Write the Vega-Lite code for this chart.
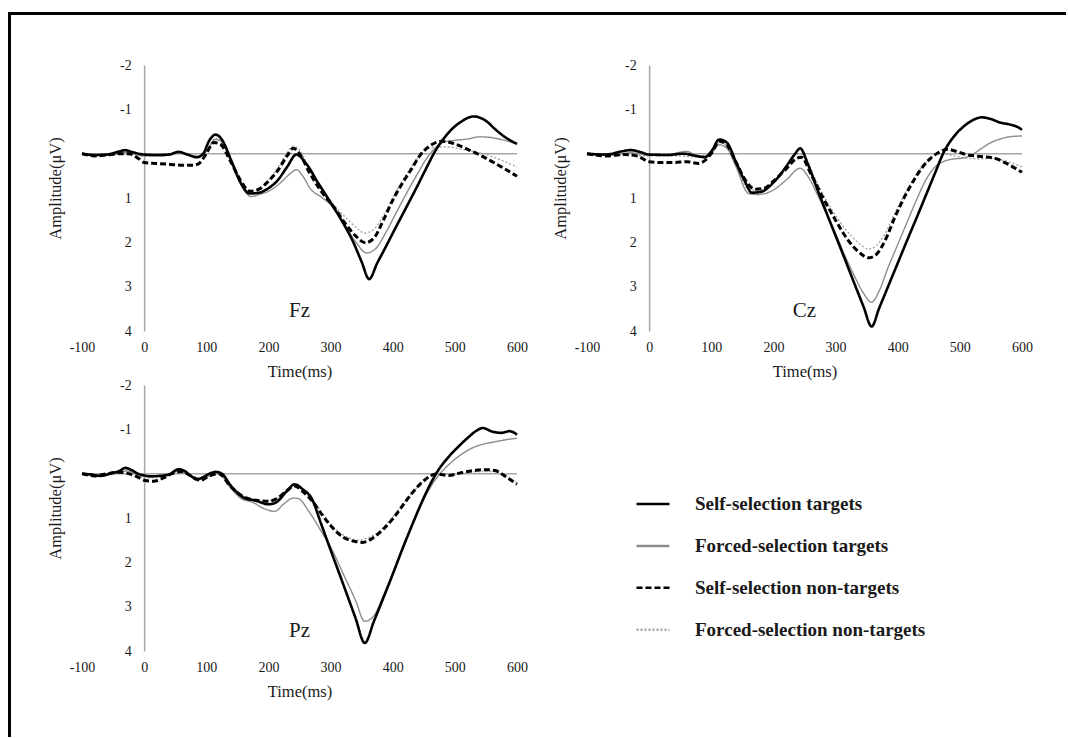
{
"$schema": "https://vega.github.io/schema/vega-lite/v6.json",
"padding": {"left": 8, "top": 12, "right": 0, "bottom": 0},
"background": "white",
"bounds": "flush",
"spacing": 0,
"datasets": {"erp": [
{"e":"Fz","s":"FN","t":-100,"v":0.02},{"e":"Fz","s":"FN","t":-60,"v":0.03},{"e":"Fz","s":"FN","t":-30,"v":-0.05},{"e":"Fz","s":"FN","t":0,"v":0.05},{"e":"Fz","s":"FN","t":30,"v":0.05},{"e":"Fz","s":"FN","t":60,"v":0.0},{"e":"Fz","s":"FN","t":85,"v":0.08},{"e":"Fz","s":"FN","t":100,"v":-0.05},{"e":"Fz","s":"FN","t":115,"v":-0.35},{"e":"Fz","s":"FN","t":128,"v":-0.25},{"e":"Fz","s":"FN","t":145,"v":0.3},{"e":"Fz","s":"FN","t":160,"v":0.75},{"e":"Fz","s":"FN","t":172,"v":0.9},{"e":"Fz","s":"FN","t":185,"v":0.82},{"e":"Fz","s":"FN","t":200,"v":0.6},{"e":"Fz","s":"FN","t":215,"v":0.32},{"e":"Fz","s":"FN","t":230,"v":-0.02},{"e":"Fz","s":"FN","t":240,"v":-0.17},{"e":"Fz","s":"FN","t":252,"v":-0.05},{"e":"Fz","s":"FN","t":265,"v":0.35},{"e":"Fz","s":"FN","t":285,"v":0.8},{"e":"Fz","s":"FN","t":305,"v":1.15},{"e":"Fz","s":"FN","t":325,"v":1.45},{"e":"Fz","s":"FN","t":340,"v":1.65},{"e":"Fz","s":"FN","t":355,"v":1.79},{"e":"Fz","s":"FN","t":370,"v":1.7},{"e":"Fz","s":"FN","t":385,"v":1.4},{"e":"Fz","s":"FN","t":400,"v":1.0},{"e":"Fz","s":"FN","t":415,"v":0.62},{"e":"Fz","s":"FN","t":430,"v":0.3},{"e":"Fz","s":"FN","t":450,"v":-0.05},{"e":"Fz","s":"FN","t":470,"v":-0.15},{"e":"Fz","s":"FN","t":490,"v":-0.15},{"e":"Fz","s":"FN","t":510,"v":-0.1},{"e":"Fz","s":"FN","t":530,"v":-0.05},{"e":"Fz","s":"FN","t":550,"v":0.02},{"e":"Fz","s":"FN","t":570,"v":0.12},{"e":"Fz","s":"FN","t":600,"v":0.3},
{"e":"Fz","s":"FT","t":-100,"v":0.02},{"e":"Fz","s":"FT","t":-70,"v":0.04},{"e":"Fz","s":"FT","t":-40,"v":0.0},{"e":"Fz","s":"FT","t":-30,"v":-0.03},{"e":"Fz","s":"FT","t":0,"v":0.05},{"e":"Fz","s":"FT","t":30,"v":0.05},{"e":"Fz","s":"FT","t":55,"v":-0.03},{"e":"Fz","s":"FT","t":70,"v":0.03},{"e":"Fz","s":"FT","t":90,"v":0.06},{"e":"Fz","s":"FT","t":100,"v":-0.05},{"e":"Fz","s":"FT","t":115,"v":-0.32},{"e":"Fz","s":"FT","t":128,"v":-0.22},{"e":"Fz","s":"FT","t":145,"v":0.35},{"e":"Fz","s":"FT","t":160,"v":0.8},{"e":"Fz","s":"FT","t":172,"v":0.97},{"e":"Fz","s":"FT","t":185,"v":0.92},{"e":"Fz","s":"FT","t":200,"v":0.85},{"e":"Fz","s":"FT","t":220,"v":0.65},{"e":"Fz","s":"FT","t":235,"v":0.45},{"e":"Fz","s":"FT","t":245,"v":0.36},{"e":"Fz","s":"FT","t":255,"v":0.5},{"e":"Fz","s":"FT","t":268,"v":0.8},{"e":"Fz","s":"FT","t":285,"v":0.98},{"e":"Fz","s":"FT","t":300,"v":1.15},{"e":"Fz","s":"FT","t":320,"v":1.55},{"e":"Fz","s":"FT","t":340,"v":1.98},{"e":"Fz","s":"FT","t":358,"v":2.24},{"e":"Fz","s":"FT","t":372,"v":2.15},{"e":"Fz","s":"FT","t":390,"v":1.75},{"e":"Fz","s":"FT","t":405,"v":1.35},{"e":"Fz","s":"FT","t":420,"v":0.95},{"e":"Fz","s":"FT","t":440,"v":0.45},{"e":"Fz","s":"FT","t":455,"v":0.1},{"e":"Fz","s":"FT","t":468,"v":-0.12},{"e":"Fz","s":"FT","t":480,"v":-0.25},{"e":"Fz","s":"FT","t":500,"v":-0.3},{"e":"Fz","s":"FT","t":520,"v":-0.33},{"e":"Fz","s":"FT","t":540,"v":-0.38},{"e":"Fz","s":"FT","t":560,"v":-0.36},{"e":"Fz","s":"FT","t":580,"v":-0.3},{"e":"Fz","s":"FT","t":600,"v":-0.22},
{"e":"Fz","s":"SN","t":-100,"v":0.0},{"e":"Fz","s":"SN","t":-80,"v":0.05},{"e":"Fz","s":"SN","t":-60,"v":0.03},{"e":"Fz","s":"SN","t":-40,"v":0.0},{"e":"Fz","s":"SN","t":-25,"v":0.0},{"e":"Fz","s":"SN","t":-10,"v":0.1},{"e":"Fz","s":"SN","t":0,"v":0.2},{"e":"Fz","s":"SN","t":20,"v":0.22},{"e":"Fz","s":"SN","t":40,"v":0.24},{"e":"Fz","s":"SN","t":60,"v":0.26},{"e":"Fz","s":"SN","t":80,"v":0.26},{"e":"Fz","s":"SN","t":90,"v":0.2},{"e":"Fz","s":"SN","t":100,"v":0.0},{"e":"Fz","s":"SN","t":112,"v":-0.25},{"e":"Fz","s":"SN","t":122,"v":-0.22},{"e":"Fz","s":"SN","t":140,"v":0.2},{"e":"Fz","s":"SN","t":155,"v":0.6},{"e":"Fz","s":"SN","t":170,"v":0.85},{"e":"Fz","s":"SN","t":185,"v":0.8},{"e":"Fz","s":"SN","t":200,"v":0.62},{"e":"Fz","s":"SN","t":215,"v":0.38},{"e":"Fz","s":"SN","t":230,"v":0.05},{"e":"Fz","s":"SN","t":240,"v":-0.12},{"e":"Fz","s":"SN","t":250,"v":0.0},{"e":"Fz","s":"SN","t":265,"v":0.4},{"e":"Fz","s":"SN","t":285,"v":0.85},{"e":"Fz","s":"SN","t":305,"v":1.2},{"e":"Fz","s":"SN","t":325,"v":1.6},{"e":"Fz","s":"SN","t":340,"v":1.85},{"e":"Fz","s":"SN","t":356,"v":2.01},{"e":"Fz","s":"SN","t":370,"v":1.9},{"e":"Fz","s":"SN","t":385,"v":1.5},{"e":"Fz","s":"SN","t":400,"v":1.05},{"e":"Fz","s":"SN","t":415,"v":0.68},{"e":"Fz","s":"SN","t":430,"v":0.35},{"e":"Fz","s":"SN","t":445,"v":0.02},{"e":"Fz","s":"SN","t":460,"v":-0.18},{"e":"Fz","s":"SN","t":480,"v":-0.28},{"e":"Fz","s":"SN","t":500,"v":-0.22},{"e":"Fz","s":"SN","t":520,"v":-0.1},{"e":"Fz","s":"SN","t":540,"v":0.03},{"e":"Fz","s":"SN","t":560,"v":0.18},{"e":"Fz","s":"SN","t":580,"v":0.34},{"e":"Fz","s":"SN","t":600,"v":0.51},
{"e":"Fz","s":"ST","t":-100,"v":0.0},{"e":"Fz","s":"ST","t":-80,"v":0.03},{"e":"Fz","s":"ST","t":-60,"v":0.02},{"e":"Fz","s":"ST","t":-40,"v":-0.05},{"e":"Fz","s":"ST","t":-30,"v":-0.08},{"e":"Fz","s":"ST","t":-20,"v":-0.04},{"e":"Fz","s":"ST","t":0,"v":0.02},{"e":"Fz","s":"ST","t":20,"v":0.03},{"e":"Fz","s":"ST","t":40,"v":0.02},{"e":"Fz","s":"ST","t":55,"v":-0.04},{"e":"Fz","s":"ST","t":70,"v":0.02},{"e":"Fz","s":"ST","t":85,"v":0.08},{"e":"Fz","s":"ST","t":95,"v":0.0},{"e":"Fz","s":"ST","t":105,"v":-0.3},{"e":"Fz","s":"ST","t":115,"v":-0.43},{"e":"Fz","s":"ST","t":125,"v":-0.32},{"e":"Fz","s":"ST","t":140,"v":0.15},{"e":"Fz","s":"ST","t":155,"v":0.65},{"e":"Fz","s":"ST","t":170,"v":0.9},{"e":"Fz","s":"ST","t":185,"v":0.88},{"e":"Fz","s":"ST","t":200,"v":0.78},{"e":"Fz","s":"ST","t":215,"v":0.6},{"e":"Fz","s":"ST","t":230,"v":0.3},{"e":"Fz","s":"ST","t":245,"v":0.02},{"e":"Fz","s":"ST","t":260,"v":0.21},{"e":"Fz","s":"ST","t":280,"v":0.66},{"e":"Fz","s":"ST","t":300,"v":1.1},{"e":"Fz","s":"ST","t":320,"v":1.56},{"e":"Fz","s":"ST","t":335,"v":1.95},{"e":"Fz","s":"ST","t":350,"v":2.44},{"e":"Fz","s":"ST","t":362,"v":2.83},{"e":"Fz","s":"ST","t":375,"v":2.47},{"e":"Fz","s":"ST","t":390,"v":2.07},{"e":"Fz","s":"ST","t":405,"v":1.66},{"e":"Fz","s":"ST","t":420,"v":1.26},{"e":"Fz","s":"ST","t":440,"v":0.72},{"e":"Fz","s":"ST","t":455,"v":0.3},{"e":"Fz","s":"ST","t":468,"v":-0.05},{"e":"Fz","s":"ST","t":480,"v":-0.3},{"e":"Fz","s":"ST","t":495,"v":-0.55},{"e":"Fz","s":"ST","t":510,"v":-0.72},{"e":"Fz","s":"ST","t":530,"v":-0.84},{"e":"Fz","s":"ST","t":550,"v":-0.74},{"e":"Fz","s":"ST","t":565,"v":-0.55},{"e":"Fz","s":"ST","t":580,"v":-0.38},{"e":"Fz","s":"ST","t":600,"v":-0.22},
{"e":"Cz","s":"FN","t":-100,"v":0.02},{"e":"Cz","s":"FN","t":-50,"v":0.03},{"e":"Cz","s":"FN","t":0,"v":0.05},{"e":"Cz","s":"FN","t":40,"v":0.05},{"e":"Cz","s":"FN","t":80,"v":0.08},{"e":"Cz","s":"FN","t":100,"v":0.0},{"e":"Cz","s":"FN","t":113,"v":-0.25},{"e":"Cz","s":"FN","t":125,"v":-0.18},{"e":"Cz","s":"FN","t":140,"v":0.25},{"e":"Cz","s":"FN","t":160,"v":0.8},{"e":"Cz","s":"FN","t":175,"v":0.82},{"e":"Cz","s":"FN","t":200,"v":0.65},{"e":"Cz","s":"FN","t":220,"v":0.35},{"e":"Cz","s":"FN","t":240,"v":0.0},{"e":"Cz","s":"FN","t":250,"v":0.05},{"e":"Cz","s":"FN","t":265,"v":0.5},{"e":"Cz","s":"FN","t":285,"v":1.05},{"e":"Cz","s":"FN","t":305,"v":1.5},{"e":"Cz","s":"FN","t":325,"v":1.85},{"e":"Cz","s":"FN","t":340,"v":2.05},{"e":"Cz","s":"FN","t":353,"v":2.15},{"e":"Cz","s":"FN","t":365,"v":2.08},{"e":"Cz","s":"FN","t":380,"v":1.8},{"e":"Cz","s":"FN","t":395,"v":1.35},{"e":"Cz","s":"FN","t":410,"v":0.95},{"e":"Cz","s":"FN","t":425,"v":0.58},{"e":"Cz","s":"FN","t":440,"v":0.28},{"e":"Cz","s":"FN","t":455,"v":0.07},{"e":"Cz","s":"FN","t":470,"v":0.0},{"e":"Cz","s":"FN","t":490,"v":0.05},{"e":"Cz","s":"FN","t":510,"v":0.1},{"e":"Cz","s":"FN","t":530,"v":0.12},{"e":"Cz","s":"FN","t":550,"v":0.1},{"e":"Cz","s":"FN","t":570,"v":0.15},{"e":"Cz","s":"FN","t":600,"v":0.3},
{"e":"Cz","s":"FT","t":-100,"v":0.02},{"e":"Cz","s":"FT","t":-60,"v":0.03},{"e":"Cz","s":"FT","t":-30,"v":-0.02},{"e":"Cz","s":"FT","t":0,"v":0.03},{"e":"Cz","s":"FT","t":30,"v":0.02},{"e":"Cz","s":"FT","t":60,"v":-0.05},{"e":"Cz","s":"FT","t":80,"v":0.05},{"e":"Cz","s":"FT","t":95,"v":0.05},{"e":"Cz","s":"FT","t":113,"v":-0.2},{"e":"Cz","s":"FT","t":125,"v":-0.12},{"e":"Cz","s":"FT","t":140,"v":0.3},{"e":"Cz","s":"FT","t":160,"v":0.9},{"e":"Cz","s":"FT","t":175,"v":0.92},{"e":"Cz","s":"FT","t":200,"v":0.82},{"e":"Cz","s":"FT","t":220,"v":0.6},{"e":"Cz","s":"FT","t":243,"v":0.33},{"e":"Cz","s":"FT","t":255,"v":0.5},{"e":"Cz","s":"FT","t":270,"v":0.9},{"e":"Cz","s":"FT","t":285,"v":1.35},{"e":"Cz","s":"FT","t":300,"v":1.8},{"e":"Cz","s":"FT","t":315,"v":2.3},{"e":"Cz","s":"FT","t":330,"v":2.75},{"e":"Cz","s":"FT","t":345,"v":3.15},{"e":"Cz","s":"FT","t":358,"v":3.35},{"e":"Cz","s":"FT","t":370,"v":3.1},{"e":"Cz","s":"FT","t":385,"v":2.55},{"e":"Cz","s":"FT","t":400,"v":2.05},{"e":"Cz","s":"FT","t":415,"v":1.55},{"e":"Cz","s":"FT","t":430,"v":1.05},{"e":"Cz","s":"FT","t":445,"v":0.6},{"e":"Cz","s":"FT","t":460,"v":0.3},{"e":"Cz","s":"FT","t":475,"v":0.17},{"e":"Cz","s":"FT","t":490,"v":0.12},{"e":"Cz","s":"FT","t":505,"v":0.1},{"e":"Cz","s":"FT","t":520,"v":0.02},{"e":"Cz","s":"FT","t":535,"v":-0.12},{"e":"Cz","s":"FT","t":550,"v":-0.25},{"e":"Cz","s":"FT","t":565,"v":-0.33},{"e":"Cz","s":"FT","t":580,"v":-0.38},{"e":"Cz","s":"FT","t":600,"v":-0.4},
{"e":"Cz","s":"SN","t":-100,"v":0.0},{"e":"Cz","s":"SN","t":-70,"v":0.05},{"e":"Cz","s":"SN","t":-40,"v":0.02},{"e":"Cz","s":"SN","t":-20,"v":0.05},{"e":"Cz","s":"SN","t":0,"v":0.18},{"e":"Cz","s":"SN","t":20,"v":0.2},{"e":"Cz","s":"SN","t":40,"v":0.2},{"e":"Cz","s":"SN","t":60,"v":0.18},{"e":"Cz","s":"SN","t":80,"v":0.22},{"e":"Cz","s":"SN","t":90,"v":0.15},{"e":"Cz","s":"SN","t":100,"v":0.0},{"e":"Cz","s":"SN","t":113,"v":-0.28},{"e":"Cz","s":"SN","t":125,"v":-0.2},{"e":"Cz","s":"SN","t":140,"v":0.2},{"e":"Cz","s":"SN","t":155,"v":0.6},{"e":"Cz","s":"SN","t":170,"v":0.8},{"e":"Cz","s":"SN","t":185,"v":0.78},{"e":"Cz","s":"SN","t":200,"v":0.62},{"e":"Cz","s":"SN","t":220,"v":0.35},{"e":"Cz","s":"SN","t":238,"v":0.1},{"e":"Cz","s":"SN","t":245,"v":0.08},{"e":"Cz","s":"SN","t":260,"v":0.45},{"e":"Cz","s":"SN","t":280,"v":1.0},{"e":"Cz","s":"SN","t":300,"v":1.5},{"e":"Cz","s":"SN","t":320,"v":1.95},{"e":"Cz","s":"SN","t":340,"v":2.25},{"e":"Cz","s":"SN","t":353,"v":2.35},{"e":"Cz","s":"SN","t":365,"v":2.28},{"e":"Cz","s":"SN","t":380,"v":1.95},{"e":"Cz","s":"SN","t":395,"v":1.45},{"e":"Cz","s":"SN","t":410,"v":1.0},{"e":"Cz","s":"SN","t":425,"v":0.62},{"e":"Cz","s":"SN","t":440,"v":0.3},{"e":"Cz","s":"SN","t":455,"v":0.08},{"e":"Cz","s":"SN","t":465,"v":-0.02},{"e":"Cz","s":"SN","t":480,"v":-0.1},{"e":"Cz","s":"SN","t":495,"v":-0.05},{"e":"Cz","s":"SN","t":510,"v":0.02},{"e":"Cz","s":"SN","t":530,"v":0.06},{"e":"Cz","s":"SN","t":555,"v":0.1},{"e":"Cz","s":"SN","t":575,"v":0.22},{"e":"Cz","s":"SN","t":600,"v":0.42},
{"e":"Cz","s":"ST","t":-100,"v":0.0},{"e":"Cz","s":"ST","t":-70,"v":0.02},{"e":"Cz","s":"ST","t":-45,"v":-0.05},{"e":"Cz","s":"ST","t":-30,"v":-0.08},{"e":"Cz","s":"ST","t":-15,"v":-0.04},{"e":"Cz","s":"ST","t":0,"v":0.02},{"e":"Cz","s":"ST","t":30,"v":0.03},{"e":"Cz","s":"ST","t":55,"v":0.0},{"e":"Cz","s":"ST","t":75,"v":0.05},{"e":"Cz","s":"ST","t":90,"v":0.08},{"e":"Cz","s":"ST","t":100,"v":-0.05},{"e":"Cz","s":"ST","t":113,"v":-0.32},{"e":"Cz","s":"ST","t":125,"v":-0.25},{"e":"Cz","s":"ST","t":140,"v":0.2},{"e":"Cz","s":"ST","t":155,"v":0.65},{"e":"Cz","s":"ST","t":165,"v":0.88},{"e":"Cz","s":"ST","t":180,"v":0.86},{"e":"Cz","s":"ST","t":200,"v":0.65},{"e":"Cz","s":"ST","t":220,"v":0.3},{"e":"Cz","s":"ST","t":235,"v":0.0},{"e":"Cz","s":"ST","t":243,"v":-0.12},{"e":"Cz","s":"ST","t":255,"v":0.22},{"e":"Cz","s":"ST","t":270,"v":0.78},{"e":"Cz","s":"ST","t":285,"v":1.32},{"e":"Cz","s":"ST","t":300,"v":1.85},{"e":"Cz","s":"ST","t":315,"v":2.38},{"e":"Cz","s":"ST","t":330,"v":2.92},{"e":"Cz","s":"ST","t":345,"v":3.45},{"e":"Cz","s":"ST","t":358,"v":3.9},{"e":"Cz","s":"ST","t":370,"v":3.49},{"e":"Cz","s":"ST","t":385,"v":2.98},{"e":"Cz","s":"ST","t":400,"v":2.47},{"e":"Cz","s":"ST","t":415,"v":1.96},{"e":"Cz","s":"ST","t":430,"v":1.46},{"e":"Cz","s":"ST","t":445,"v":0.95},{"e":"Cz","s":"ST","t":460,"v":0.44},{"e":"Cz","s":"ST","t":474,"v":-0.03},{"e":"Cz","s":"ST","t":490,"v":-0.38},{"e":"Cz","s":"ST","t":505,"v":-0.6},{"e":"Cz","s":"ST","t":520,"v":-0.75},{"e":"Cz","s":"ST","t":535,"v":-0.82},{"e":"Cz","s":"ST","t":550,"v":-0.78},{"e":"Cz","s":"ST","t":565,"v":-0.7},{"e":"Cz","s":"ST","t":580,"v":-0.66},{"e":"Cz","s":"ST","t":590,"v":-0.62},{"e":"Cz","s":"ST","t":600,"v":-0.54},
{"e":"Pz","s":"FN","t":-100,"v":0.02},{"e":"Pz","s":"FN","t":-60,"v":0.02},{"e":"Pz","s":"FN","t":-30,"v":-0.08},{"e":"Pz","s":"FN","t":0,"v":0.1},{"e":"Pz","s":"FN","t":30,"v":0.05},{"e":"Pz","s":"FN","t":55,"v":-0.05},{"e":"Pz","s":"FN","t":85,"v":0.1},{"e":"Pz","s":"FN","t":105,"v":0.03},{"e":"Pz","s":"FN","t":125,"v":0.0},{"e":"Pz","s":"FN","t":140,"v":0.28},{"e":"Pz","s":"FN","t":165,"v":0.55},{"e":"Pz","s":"FN","t":190,"v":0.62},{"e":"Pz","s":"FN","t":210,"v":0.6},{"e":"Pz","s":"FN","t":230,"v":0.35},{"e":"Pz","s":"FN","t":242,"v":0.24},{"e":"Pz","s":"FN","t":255,"v":0.38},{"e":"Pz","s":"FN","t":270,"v":0.6},{"e":"Pz","s":"FN","t":290,"v":0.95},{"e":"Pz","s":"FN","t":310,"v":1.28},{"e":"Pz","s":"FN","t":330,"v":1.45},{"e":"Pz","s":"FN","t":345,"v":1.5},{"e":"Pz","s":"FN","t":360,"v":1.45},{"e":"Pz","s":"FN","t":380,"v":1.28},{"e":"Pz","s":"FN","t":400,"v":0.98},{"e":"Pz","s":"FN","t":420,"v":0.62},{"e":"Pz","s":"FN","t":440,"v":0.3},{"e":"Pz","s":"FN","t":460,"v":0.05},{"e":"Pz","s":"FN","t":480,"v":0.0},{"e":"Pz","s":"FN","t":500,"v":0.02},{"e":"Pz","s":"FN","t":520,"v":-0.02},{"e":"Pz","s":"FN","t":540,"v":-0.05},{"e":"Pz","s":"FN","t":560,"v":-0.05},{"e":"Pz","s":"FN","t":580,"v":0.05},{"e":"Pz","s":"FN","t":600,"v":0.2},
{"e":"Pz","s":"FT","t":-100,"v":0.02},{"e":"Pz","s":"FT","t":-70,"v":0.03},{"e":"Pz","s":"FT","t":-40,"v":-0.02},{"e":"Pz","s":"FT","t":-30,"v":-0.06},{"e":"Pz","s":"FT","t":0,"v":0.05},{"e":"Pz","s":"FT","t":30,"v":0.05},{"e":"Pz","s":"FT","t":55,"v":-0.06},{"e":"Pz","s":"FT","t":75,"v":0.05},{"e":"Pz","s":"FT","t":90,"v":0.1},{"e":"Pz","s":"FT","t":105,"v":0.05},{"e":"Pz","s":"FT","t":120,"v":-0.02},{"e":"Pz","s":"FT","t":135,"v":0.25},{"e":"Pz","s":"FT","t":155,"v":0.55},{"e":"Pz","s":"FT","t":175,"v":0.65},{"e":"Pz","s":"FT","t":195,"v":0.8},{"e":"Pz","s":"FT","t":210,"v":0.85},{"e":"Pz","s":"FT","t":225,"v":0.68},{"e":"Pz","s":"FT","t":240,"v":0.55},{"e":"Pz","s":"FT","t":248,"v":0.56},{"e":"Pz","s":"FT","t":265,"v":0.85},{"e":"Pz","s":"FT","t":285,"v":1.3},{"e":"Pz","s":"FT","t":300,"v":1.65},{"e":"Pz","s":"FT","t":320,"v":2.25},{"e":"Pz","s":"FT","t":340,"v":2.85},{"e":"Pz","s":"FT","t":355,"v":3.33},{"e":"Pz","s":"FT","t":370,"v":3.2},{"e":"Pz","s":"FT","t":385,"v":2.75},{"e":"Pz","s":"FT","t":400,"v":2.25},{"e":"Pz","s":"FT","t":415,"v":1.7},{"e":"Pz","s":"FT","t":430,"v":1.2},{"e":"Pz","s":"FT","t":445,"v":0.72},{"e":"Pz","s":"FT","t":460,"v":0.32},{"e":"Pz","s":"FT","t":475,"v":0.02},{"e":"Pz","s":"FT","t":490,"v":-0.2},{"e":"Pz","s":"FT","t":505,"v":-0.38},{"e":"Pz","s":"FT","t":520,"v":-0.52},{"e":"Pz","s":"FT","t":535,"v":-0.62},{"e":"Pz","s":"FT","t":550,"v":-0.68},{"e":"Pz","s":"FT","t":565,"v":-0.72},{"e":"Pz","s":"FT","t":580,"v":-0.76},{"e":"Pz","s":"FT","t":600,"v":-0.8},
{"e":"Pz","s":"SN","t":-100,"v":0.0},{"e":"Pz","s":"SN","t":-80,"v":0.05},{"e":"Pz","s":"SN","t":-60,"v":0.0},{"e":"Pz","s":"SN","t":-40,"v":-0.03},{"e":"Pz","s":"SN","t":-25,"v":0.0},{"e":"Pz","s":"SN","t":-10,"v":0.08},{"e":"Pz","s":"SN","t":0,"v":0.15},{"e":"Pz","s":"SN","t":15,"v":0.17},{"e":"Pz","s":"SN","t":30,"v":0.1},{"e":"Pz","s":"SN","t":45,"v":0.0},{"e":"Pz","s":"SN","t":60,"v":-0.05},{"e":"Pz","s":"SN","t":75,"v":0.05},{"e":"Pz","s":"SN","t":90,"v":0.15},{"e":"Pz","s":"SN","t":105,"v":0.05},{"e":"Pz","s":"SN","t":120,"v":0.0},{"e":"Pz","s":"SN","t":140,"v":0.3},{"e":"Pz","s":"SN","t":160,"v":0.52},{"e":"Pz","s":"SN","t":180,"v":0.6},{"e":"Pz","s":"SN","t":200,"v":0.62},{"e":"Pz","s":"SN","t":215,"v":0.55},{"e":"Pz","s":"SN","t":230,"v":0.38},{"e":"Pz","s":"SN","t":242,"v":0.28},{"e":"Pz","s":"SN","t":255,"v":0.4},{"e":"Pz","s":"SN","t":270,"v":0.61},{"e":"Pz","s":"SN","t":285,"v":0.9},{"e":"Pz","s":"SN","t":300,"v":1.17},{"e":"Pz","s":"SN","t":320,"v":1.43},{"e":"Pz","s":"SN","t":340,"v":1.53},{"e":"Pz","s":"SN","t":352,"v":1.55},{"e":"Pz","s":"SN","t":370,"v":1.43},{"e":"Pz","s":"SN","t":385,"v":1.25},{"e":"Pz","s":"SN","t":400,"v":1.02},{"e":"Pz","s":"SN","t":415,"v":0.74},{"e":"Pz","s":"SN","t":430,"v":0.46},{"e":"Pz","s":"SN","t":450,"v":0.16},{"e":"Pz","s":"SN","t":470,"v":0.01},{"e":"Pz","s":"SN","t":490,"v":0.04},{"e":"Pz","s":"SN","t":510,"v":-0.02},{"e":"Pz","s":"SN","t":530,"v":-0.07},{"e":"Pz","s":"SN","t":550,"v":-0.09},{"e":"Pz","s":"SN","t":565,"v":-0.07},{"e":"Pz","s":"SN","t":580,"v":0.05},{"e":"Pz","s":"SN","t":600,"v":0.24},
{"e":"Pz","s":"ST","t":-100,"v":0.0},{"e":"Pz","s":"ST","t":-85,"v":0.02},{"e":"Pz","s":"ST","t":-70,"v":0.05},{"e":"Pz","s":"ST","t":-55,"v":0.0},{"e":"Pz","s":"ST","t":-40,"v":-0.06},{"e":"Pz","s":"ST","t":-30,"v":-0.13},{"e":"Pz","s":"ST","t":-20,"v":-0.08},{"e":"Pz","s":"ST","t":-10,"v":0.0},{"e":"Pz","s":"ST","t":0,"v":0.04},{"e":"Pz","s":"ST","t":10,"v":0.06},{"e":"Pz","s":"ST","t":25,"v":0.05},{"e":"Pz","s":"ST","t":40,"v":0.02},{"e":"Pz","s":"ST","t":55,"v":-0.1},{"e":"Pz","s":"ST","t":65,"v":-0.06},{"e":"Pz","s":"ST","t":75,"v":0.05},{"e":"Pz","s":"ST","t":85,"v":0.13},{"e":"Pz","s":"ST","t":95,"v":0.08},{"e":"Pz","s":"ST","t":105,"v":0.0},{"e":"Pz","s":"ST","t":115,"v":-0.04},{"e":"Pz","s":"ST","t":125,"v":0.0},{"e":"Pz","s":"ST","t":140,"v":0.28},{"e":"Pz","s":"ST","t":160,"v":0.54},{"e":"Pz","s":"ST","t":180,"v":0.61},{"e":"Pz","s":"ST","t":200,"v":0.69},{"e":"Pz","s":"ST","t":212,"v":0.65},{"e":"Pz","s":"ST","t":230,"v":0.39},{"e":"Pz","s":"ST","t":242,"v":0.24},{"e":"Pz","s":"ST","t":255,"v":0.35},{"e":"Pz","s":"ST","t":270,"v":0.57},{"e":"Pz","s":"ST","t":285,"v":1.14},{"e":"Pz","s":"ST","t":300,"v":1.72},{"e":"Pz","s":"ST","t":320,"v":2.48},{"e":"Pz","s":"ST","t":340,"v":3.25},{"e":"Pz","s":"ST","t":355,"v":3.82},{"e":"Pz","s":"ST","t":370,"v":3.32},{"e":"Pz","s":"ST","t":385,"v":2.8},{"e":"Pz","s":"ST","t":400,"v":2.27},{"e":"Pz","s":"ST","t":415,"v":1.72},{"e":"Pz","s":"ST","t":430,"v":1.2},{"e":"Pz","s":"ST","t":445,"v":0.7},{"e":"Pz","s":"ST","t":460,"v":0.25},{"e":"Pz","s":"ST","t":472,"v":-0.05},{"e":"Pz","s":"ST","t":490,"v":-0.38},{"e":"Pz","s":"ST","t":505,"v":-0.6},{"e":"Pz","s":"ST","t":520,"v":-0.8},{"e":"Pz","s":"ST","t":535,"v":-0.97},{"e":"Pz","s":"ST","t":545,"v":-1.03},{"e":"Pz","s":"ST","t":560,"v":-0.95},{"e":"Pz","s":"ST","t":575,"v":-0.92},{"e":"Pz","s":"ST","t":588,"v":-0.96},{"e":"Pz","s":"ST","t":600,"v":-0.88}
]},
"vconcat": [
 {"width": 1056, "height": 1, "view": {"stroke": "black", "strokeWidth": 2}, "data": {"values": []}, "mark": "point"},
 {"bounds": "flush", "spacing": 72, "hconcat": [
  {"width": 1, "height": 722, "view": {"stroke": "black", "strokeWidth": 2}, "data": {"values": []}, "mark": "point"},
  {"bounds": "flush", "spacing": 50, "vconcat": [
   {"width": 1, "height": 1, "data": {"values": []}, "mark": "point"},
   {"bounds": "flush", "spacing": 505, "hconcat": [
    {"bounds": "flush", "spacing": 54, "vconcat": [
     {"width": 435, "height": 266,
      "title": {"text": "Fz", "orient": "bottom", "frame": "group", "offset": -80},
      "layer": [
       {"data": {"values": [{}]}, "mark": {"type": "rule", "color": "#a6a6a6", "strokeWidth": 1.5}, "encoding": {"y": {"datum": 0, "type": "quantitative", "title": "Amplitude(μV)", "scale": {"domain": [-2, 4], "reverse": true, "nice": false}}}},
       {"data": {"name": "erp"}, "transform": [{"filter": "datum.e === 'Fz'"}],
        "mark": {"type": "line", "interpolate": "monotone"},
        "encoding": {
         "x": {"field": "t", "type": "quantitative", "title": "Time(ms)", "scale": {"domain": [-100, 600], "nice": false}, "axis": {"values": [-100, 0, 100, 200, 300, 400, 500, 600]}},
         "y": {"field": "v", "type": "quantitative", "title": "Amplitude(μV)", "scale": {"domain": [-2, 4], "reverse": true, "nice": false}, "axis": {"values": [-2, -1, 1, 2, 3, 4]}},
         "color": {"field": "s", "type": "nominal", "scale": {"domain": ["ST","FT","SN","FN"], "range": ["#000000","#8c8c8c","#000000","#a6a6a6"]}, "legend": {"title": null, "labelExpr": "{'ST':'Self-selection targets','FT':'Forced-selection targets','SN':'Self-selection non-targets','FN':'Forced-selection non-targets'}[datum.value]"}},
         "strokeDash": {"field": "s", "type": "nominal", "scale": {"domain": ["ST","FT","SN","FN"], "range": [[1,0],[1,0],[6,3],[2,2]]}, "legend": {"title": null, "labelExpr": "{'ST':'Self-selection targets','FT':'Forced-selection targets','SN':'Self-selection non-targets','FN':'Forced-selection non-targets'}[datum.value]"}},
         "strokeWidth": {"condition": [{"test": "datum.s === 'ST'", "value": 2.6}, {"test": "datum.s === 'SN'", "value": 3}], "value": 1.4}
        }}
      ]},
     {"width": 435, "height": 266,
      "title": {"text": "Pz", "orient": "bottom", "frame": "group", "offset": -80},
      "layer": [
       {"data": {"values": [{}]}, "mark": {"type": "rule", "color": "#a6a6a6", "strokeWidth": 1.5}, "encoding": {"y": {"datum": 0, "type": "quantitative", "title": "Amplitude(μV)", "scale": {"domain": [-2, 4], "reverse": true, "nice": false}}}},
       {"data": {"name": "erp"}, "transform": [{"filter": "datum.e === 'Pz'"}],
        "mark": {"type": "line", "interpolate": "monotone"},
        "encoding": {
         "x": {"field": "t", "type": "quantitative", "title": "Time(ms)", "scale": {"domain": [-100, 600], "nice": false}, "axis": {"values": [-100, 0, 100, 200, 300, 400, 500, 600]}},
         "y": {"field": "v", "type": "quantitative", "title": "Amplitude(μV)", "scale": {"domain": [-2, 4], "reverse": true, "nice": false}, "axis": {"values": [-2, -1, 1, 2, 3, 4]}},
         "color": {"field": "s", "type": "nominal", "scale": {"domain": ["ST","FT","SN","FN"], "range": ["#000000","#8c8c8c","#000000","#a6a6a6"]}, "legend": {"title": null, "labelExpr": "{'ST':'Self-selection targets','FT':'Forced-selection targets','SN':'Self-selection non-targets','FN':'Forced-selection non-targets'}[datum.value]"}},
         "strokeDash": {"field": "s", "type": "nominal", "scale": {"domain": ["ST","FT","SN","FN"], "range": [[1,0],[1,0],[6,3],[2,2]]}, "legend": {"title": null, "labelExpr": "{'ST':'Self-selection targets','FT':'Forced-selection targets','SN':'Self-selection non-targets','FN':'Forced-selection non-targets'}[datum.value]"}},
         "strokeWidth": {"condition": [{"test": "datum.s === 'ST'", "value": 2.6}, {"test": "datum.s === 'SN'", "value": 3}], "value": 1.4}
        }}
      ]}
    ]},
    {"width": 435, "height": 266,
     "title": {"text": "Cz", "orient": "bottom", "frame": "group", "offset": -80},
     "layer": [
      {"data": {"values": [{}]}, "mark": {"type": "rule", "color": "#a6a6a6", "strokeWidth": 1.5}, "encoding": {"y": {"datum": 0, "type": "quantitative", "title": "Amplitude(μV)", "scale": {"domain": [-2, 4], "reverse": true, "nice": false}}}},
      {"data": {"name": "erp"}, "transform": [{"filter": "datum.e === 'Cz'"}],
       "mark": {"type": "line", "interpolate": "monotone"},
       "encoding": {
        "x": {"field": "t", "type": "quantitative", "title": "Time(ms)", "scale": {"domain": [-100, 600], "nice": false}, "axis": {"values": [-100, 0, 100, 200, 300, 400, 500, 600]}},
        "y": {"field": "v", "type": "quantitative", "title": "Amplitude(μV)", "scale": {"domain": [-2, 4], "reverse": true, "nice": false}, "axis": {"values": [-2, -1, 1, 2, 3, 4]}},
        "color": {"field": "s", "type": "nominal", "scale": {"domain": ["ST","FT","SN","FN"], "range": ["#000000","#8c8c8c","#000000","#a6a6a6"]}, "legend": {"title": null, "labelExpr": "{'ST':'Self-selection targets','FT':'Forced-selection targets','SN':'Self-selection non-targets','FN':'Forced-selection non-targets'}[datum.value]"}},
        "strokeDash": {"field": "s", "type": "nominal", "scale": {"domain": ["ST","FT","SN","FN"], "range": [[1,0],[1,0],[6,3],[2,2]]}, "legend": {"title": null, "labelExpr": "{'ST':'Self-selection targets','FT':'Forced-selection targets','SN':'Self-selection non-targets','FN':'Forced-selection non-targets'}[datum.value]"}},
        "strokeWidth": {"condition": [{"test": "datum.s === 'ST'", "value": 2.6}, {"test": "datum.s === 'SN'", "value": 3}], "value": 1.4}
       }}
     ]}
   ]}
  ]}
 ]}
],
"config": {
 "view": {"stroke": null},
 "font": "Liberation Serif",
 "title": {"font": "Liberation Serif", "fontSize": 21, "fontWeight": "normal", "color": "#1a1a1a", "anchor": "middle"},
 "axis": {"grid": false, "ticks": false, "labelFont": "Liberation Serif", "titleFont": "Liberation Serif", "labelFontSize": 14, "titleFontSize": 16.5, "titleFontWeight": "normal", "labelColor": "#1a1a1a", "titleColor": "#1a1a1a", "labelFlush": false, "labelOverlap": false, "labelExpr": "datum.value + ''"},
 "axisX": {"domain": false, "labelPadding": 9, "titlePadding": 9},
 "axisY": {"domainColor": "#a6a6a6", "domainWidth": 1.5, "offset": -62.14, "labelPadding": 13, "titleX": -81, "titleY": 123},
 "legend": {"orient": "none", "legendX": 626, "legendY": 473, "symbolType": "stroke", "symbolSize": 1089, "symbolStrokeWidth": 2.5, "labelFont": "Liberation Serif", "labelFontSize": 19, "labelFontWeight": "bold", "labelColor": "#1a1a1a", "labelOffset": 24, "labelLimit": 0, "rowPadding": 13.9, "padding": 0}
}
}
